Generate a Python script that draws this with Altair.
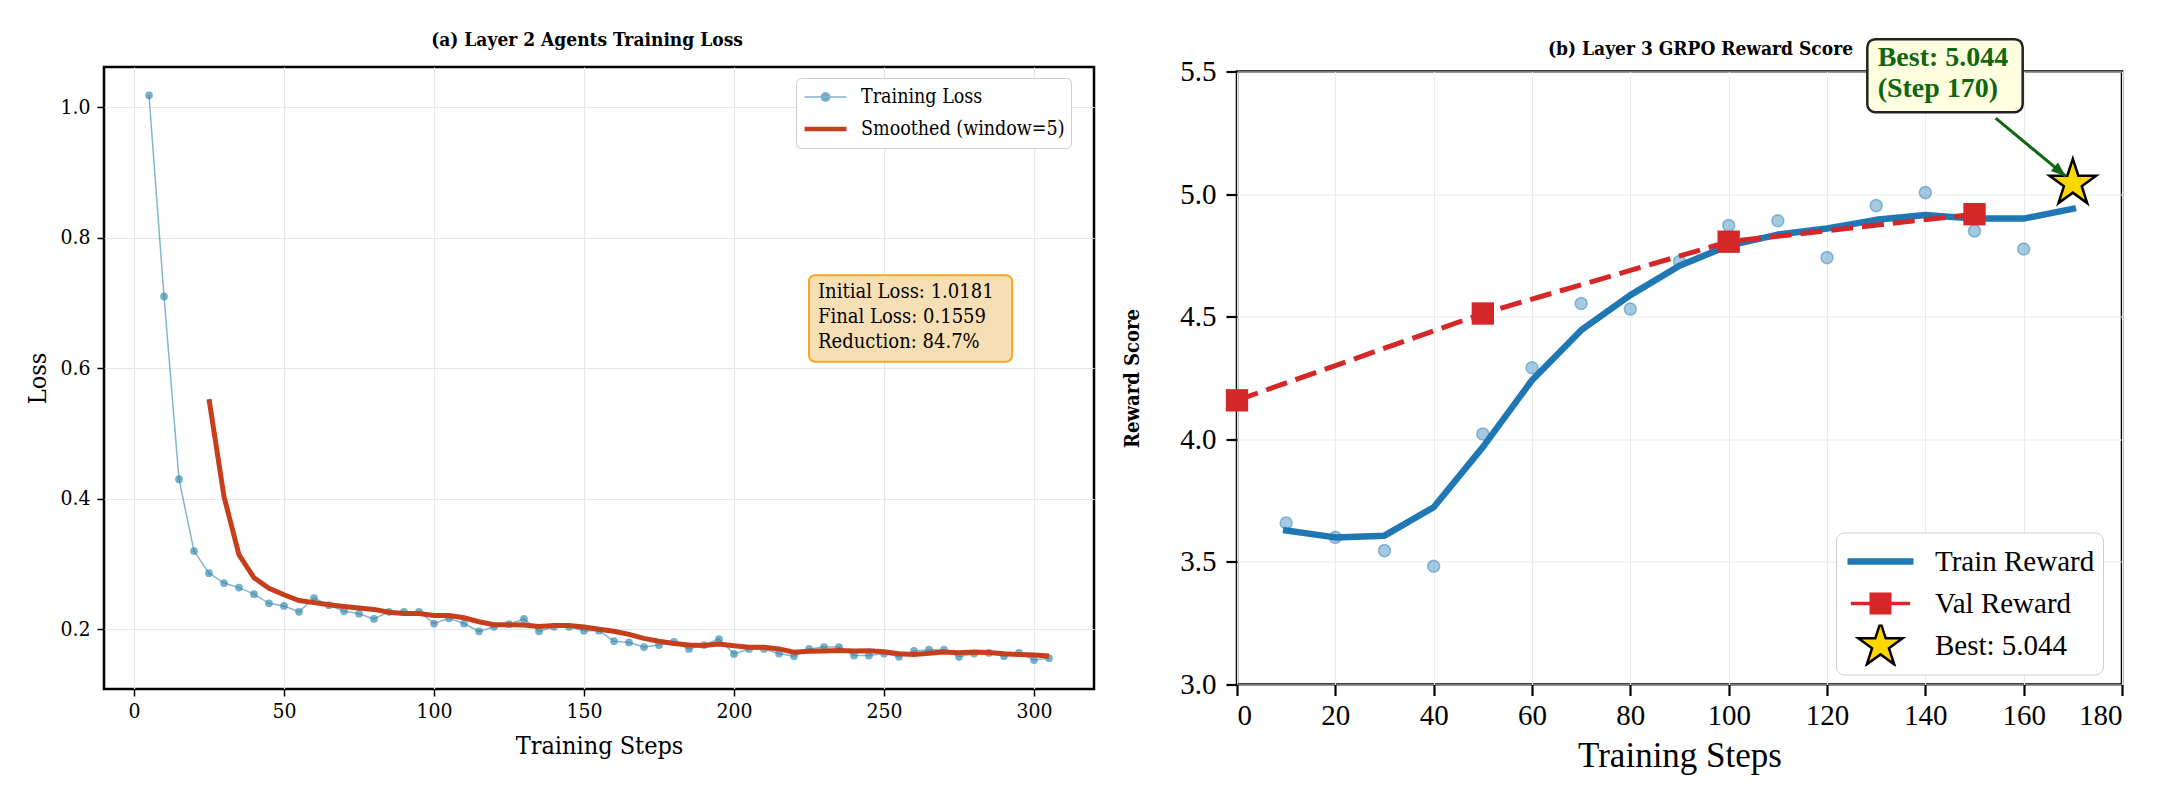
import altair as alt
import pandas as pd

SERIF = "DejaVu Serif Condensed, DejaVu Serif, serif"
TIMES = "Liberation Serif, Times New Roman, serif"

# ---------------- (a) Layer 2 agents training loss ----------------
loss_steps = list(range(5, 310, 5))
loss_values = [
    1.0181, 0.710, 0.430, 0.320, 0.286, 0.271, 0.264, 0.254, 0.240, 0.236,
    0.227, 0.248, 0.237, 0.228, 0.224, 0.216, 0.227, 0.227, 0.227, 0.209,
    0.217, 0.209, 0.197, 0.204, 0.208, 0.216, 0.197, 0.204, 0.204, 0.198,
    0.198, 0.182, 0.180, 0.173, 0.176, 0.181, 0.170, 0.176, 0.185, 0.1625,
    0.170, 0.170, 0.163, 0.159, 0.170, 0.173, 0.173, 0.160, 0.160, 0.163,
    0.158, 0.167, 0.169, 0.169, 0.158, 0.163, 0.164, 0.159, 0.164, 0.153,
    0.1559,
]
loss_series = ["Training Loss", "Smoothed (window=5)"]
loss_x_ticks = [0, 50, 100, 150, 200, 250, 300]
loss_y_ticks = [0.2, 0.4, 0.6, 0.8, 1.0]
summary_lines = ["Initial Loss: 1.0181", "Final Loss: 0.1559", "Reduction: 84.7%"]

# ---------------- (b) Layer 3 GRPO reward ----------------
reward_steps = [10, 20, 30, 40, 50, 60, 70, 80, 90, 100, 110, 120, 130, 140, 150, 160, 170]
reward_raw = [3.659, 3.600, 3.546, 3.482, 4.022, 4.292, 4.554, 4.531, 4.725,
              4.872, 4.891, 4.741, 4.953, 5.006, 4.850, 4.776, 5.044]
reward_smooth = [3.628, 3.600, 3.607, 3.723, 3.968, 4.241, 4.445, 4.588, 4.708,
                 4.790, 4.835, 4.860, 4.895, 4.915, 4.900, 4.900, 4.940]
val_steps = [0, 50, 100, 150]
val_reward = [4.159, 4.513, 4.806, 4.918]
best_step = 170
best_reward = 5.044
reward_series = ["Train Reward", "Val Reward", f"Best: {best_reward:.3f}"]
reward_x_ticks = [0, 20, 40, 60, 80, 100, 120, 140, 160, 180]
reward_y_ticks = [3.0, 3.5, 4.0, 4.5, 5.0, 5.5]

# symbol paths (unit square, scaled by Vega)
LINE = "M-1,0H1"
LINE_DOT = "M-1,0H1M0.2,0A0.2,0.2,0,1,1,-0.2,0A0.2,0.2,0,1,1,0.2,0Z"
LINE_SQUARE = "M-0.9,0H0.9M-0.28,-0.28H0.28V0.28H-0.28Z"
STAR = ("M0,-1L0.2245,-0.309L0.9511,-0.309L0.3633,0.118L0.5878,0.809L0,0.382"
        "L-0.5878,0.809L-0.3633,0.118L-0.9511,-0.309L-0.2245,-0.309Z")
ARROW_HEAD = "M0,0L0.55,1.5L-0.55,1.5Z"

# ======================= panel (a) =======================
loss_df = pd.DataFrame({"step": loss_steps, "loss": loss_values})

LOSS_BLUE = "#2E86AB"
LOSS_RED = "#C73E1D"


def loss_x(field="step"):
    return alt.X(f"{field}:Q",
                 scale=alt.Scale(domain=[-10, 320], nice=False, zero=False),
                 axis=alt.Axis(values=loss_x_ticks, title="Training Steps", format="d",
                               labelFont=SERIF, labelFontSize=21, labelColor="black",
                               titleFont=SERIF, titleFontSize=25, titleFontWeight="normal",
                               titleColor="black", titlePadding=12, labelPadding=4,
                               tickSize=7, tickWidth=1.5, tickColor="black", domain=False,
                               grid=True, gridColor="#e6e6e6", gridWidth=1.2))


def loss_y(field):
    return alt.Y(f"{field}:Q",
                 scale=alt.Scale(domain=[0.1087, 1.0614], nice=False, zero=False),
                 axis=alt.Axis(values=loss_y_ticks, title="Loss", format=".1f",
                               labelFont=SERIF, labelFontSize=21, labelColor="black",
                               titleFont=SERIF, titleFontSize=25, titleFontWeight="normal",
                               titleColor="black", titlePadding=9, labelPadding=7,
                               tickSize=7, tickWidth=1.5, tickColor="black", domain=False,
                               grid=True, gridColor="#e6e6e6", gridWidth=1.2))


loss_raw_line = alt.Chart(loss_df).mark_line(
    color=LOSS_BLUE, opacity=0.6, strokeWidth=1.5
).encode(x=loss_x(), y=loss_y("loss"))

loss_raw_pts = alt.Chart(loss_df).mark_circle(
    color=LOSS_BLUE, opacity=0.65, size=60
).encode(x=loss_x(), y=loss_y("loss"))

loss_smooth = alt.Chart(loss_df).transform_window(
    smooth="mean(loss)", n="count()", frame=[-4, 0], sort=[alt.SortField("step")]
).transform_filter("datum.n == 5").mark_line(
    color=LOSS_RED, strokeWidth=5
).encode(x=loss_x(), y=loss_y("smooth"))

summary_box = alt.Chart(pd.DataFrame({"x": [225.0], "x2": [292.7], "y": [0.7425], "y2": [0.610]})).mark_rect(
    fill="#F7DFB5", stroke="#F5A623", strokeWidth=2, cornerRadius=6
).encode(x=loss_x("x"), x2="x2", y=loss_y("y"), y2="y2")

# first line sits at y; the others follow below it
summary_text = alt.Chart(pd.DataFrame({"x": [228.0], "y": [0.7166], "t": ["\n".join(summary_lines)]})).mark_text(
    align="left", baseline="middle", font=SERIF, fontSize=20, lineHeight=25,
    lineBreak="\n", color="black"
).encode(x=loss_x("x"), y=loss_y("y"), text="t:N")

legL = alt.Legend(title=None, orient="none", legendX=692, legendY=11,
                  labelFont=SERIF, labelFontSize=19.5, labelColor="black",
                  labelOffset=12, padding=6, rowPadding=6, clipHeight=26,
                  symbolOpacity=1, fillColor="white", strokeColor="#cccccc",
                  cornerRadius=5, labelLimit=400)
loss_legend = alt.Chart(pd.DataFrame({"series": loss_series})).transform_filter(
    "false"
).mark_point(filled=True).encode(
    fill=alt.Fill("series:N", scale=alt.Scale(domain=loss_series, range=["#6EA9C6", LOSS_RED]), legend=legL),
    stroke=alt.Stroke("series:N", scale=alt.Scale(domain=loss_series, range=["#82B6CD", LOSS_RED]), legend=legL),
    shape=alt.Shape("series:N", scale=alt.Scale(domain=loss_series, range=[LINE_DOT, LINE]), legend=legL),
    size=alt.Size("series:N", scale=alt.Scale(type="ordinal", domain=loss_series, range=[1764, 1764]), legend=legL),
    strokeWidth=alt.StrokeWidth("series:N", scale=alt.Scale(type="ordinal", domain=loss_series, range=[1.5, 4.5]), legend=legL),
)

left = alt.layer(
    loss_raw_line, loss_raw_pts, loss_smooth, summary_box, summary_text, loss_legend
).properties(
    width=990, height=622,
    title=alt.TitleParams("(a) Layer 2 Agents Training Loss", font=SERIF, fontSize=19,
                          fontWeight="bold", color="black", anchor="middle", offset=17, dx=-12),
)

# ======================= panel (b) =======================
reward_df = pd.DataFrame({"step": reward_steps, "raw": reward_raw, "smooth": reward_smooth})
val_df = pd.DataFrame({"step": val_steps, "val": val_reward})
best_df = pd.DataFrame({"step": [best_step], "reward": [best_reward]})

TAB_BLUE = "#1f77b4"
TAB_RED = "#d62728"
GREEN = "#116611"


def rew_x(field="step"):
    return alt.X(f"{field}:Q",
                 scale=alt.Scale(domain=[0, 180], nice=False, zero=False),
                 axis=alt.Axis(values=reward_x_ticks, title="Training Steps", format="d",
                               labelFont=TIMES, labelFontSize=29, labelColor="black",
                               titleFont=TIMES, titleFontSize=35, titleFontWeight="normal",
                               titleColor="black", titlePadding=8, labelPadding=6,
                               tickSize=11, tickWidth=2.2, tickColor="black", domain=False,
                               grid=True, gridColor="#ebebeb", gridWidth=1))


def rew_y(field):
    return alt.Y(f"{field}:Q",
                 scale=alt.Scale(domain=[3.0, 5.5], nice=False, zero=False),
                 axis=alt.Axis(values=reward_y_ticks, title="Reward Score", format=".1f",
                               labelFont=TIMES, labelFontSize=29, labelColor="black",
                               titleFont=SERIF, titleFontSize=20, titleFontWeight="bold",
                               titleColor="black", titlePadding=37, labelPadding=10,
                               tickSize=11, tickWidth=2.2, tickColor="black", domain=False,
                               grid=True, gridColor="#ebebeb", gridWidth=1))


train_pts = alt.Chart(reward_df).mark_point(
    filled=True, fill=TAB_BLUE, fillOpacity=0.4, stroke=TAB_BLUE, strokeOpacity=0.45,
    strokeWidth=1.5, size=145
).encode(x=rew_x(), y=rew_y("raw"))

train_line = alt.Chart(reward_df).mark_line(
    color=TAB_BLUE, strokeWidth=6.5, strokeCap="square", strokeJoin="round"
).encode(x=rew_x(), y=rew_y("smooth"))

val_line = alt.Chart(val_df).mark_line(
    color=TAB_RED, strokeWidth=5, strokeDash=[22, 9]
).encode(x=rew_x(), y=rew_y("val"))

val_pts = alt.Chart(val_df).mark_square(
    color=TAB_RED, size=500, opacity=1
).encode(x=rew_x(), y=rew_y("val"))

best_star = alt.Chart(best_df).mark_point(
    shape=STAR, filled=True, fill="#FFD700", stroke="black", strokeWidth=2.5,
    size=2400, opacity=1
).encode(x=rew_x(), y=rew_y("reward"))

# annotation box, label and arrow for the best score
ann_box = alt.Chart(pd.DataFrame({"x": [128.2], "x2": [159.8], "y": [5.632], "y2": [5.334]})).mark_rect(
    fill="#FFFFE0", stroke="#222222", strokeWidth=2.5, cornerRadius=8
).encode(x=rew_x("x"), x2="x2", y=rew_y("y"), y2="y2")

ann_text = alt.Chart(pd.DataFrame({
    "x": [130.3], "y": [5.554],
    "t": [f"Best: {best_reward:.3f}\n(Step {best_step})"],
})).mark_text(
    align="left", baseline="middle", font=TIMES, fontSize=28, fontWeight="bold",
    lineHeight=31, lineBreak="\n", color=GREEN
).encode(x=rew_x("x"), y=rew_y("y"), text="t:N")

arrow_df = pd.DataFrame({"x": [154.3], "y": [5.31], "x2": [168.6], "y2": [5.072]})
ann_arrow = alt.Chart(arrow_df).mark_rule(
    color=GREEN, strokeWidth=3
).encode(x=rew_x("x"), y=rew_y("y"), x2="x2", y2="y2")

ann_head = alt.Chart(arrow_df).mark_point(
    shape=ARROW_HEAD, filled=True, color=GREEN, size=400, angle=129.8, opacity=1
).encode(x=rew_x("x2"), y=rew_y("y2"))

legR = alt.Legend(title=None, orient="none", legendX=599, legendY=461,
                  labelFont=TIMES, labelFontSize=29, labelColor="black",
                  labelOffset=18, padding=8, rowPadding=0, clipHeight=42,
                  symbolOpacity=1, fillColor="white", strokeColor="#cccccc",
                  cornerRadius=8, labelLimit=400)
reward_legend = alt.Chart(pd.DataFrame({"series": reward_series})).transform_filter(
    "false"
).mark_point(filled=True).encode(
    fill=alt.Fill("series:N", scale=alt.Scale(domain=reward_series, range=[TAB_BLUE, TAB_RED, "#FFD700"]), legend=legR),
    stroke=alt.Stroke("series:N", scale=alt.Scale(domain=reward_series, range=[TAB_BLUE, TAB_RED, "black"]), legend=legR),
    shape=alt.Shape("series:N", scale=alt.Scale(domain=reward_series, range=[LINE, LINE_SQUARE, STAR]), legend=legR),
    size=alt.Size("series:N", scale=alt.Scale(type="ordinal", domain=reward_series, range=[4356, 4356, 2155]), legend=legR),
    strokeWidth=alt.StrokeWidth("series:N", scale=alt.Scale(type="ordinal", domain=reward_series, range=[6.5, 3.5, 2.5]), legend=legR),
)

right = alt.layer(
    train_pts, train_line, val_line, val_pts, best_star,
    ann_box, ann_text, ann_arrow, ann_head, reward_legend
).properties(
    width=885, height=613,
    title=alt.TitleParams("(b) Layer 3 GRPO Reward Score", font=SERIF, fontSize=19,
                          fontWeight="bold", color="black", anchor="middle", offset=14,
                          dx=21, dy=35),
)

chart = alt.hconcat(
    left, right, spacing=143, bounds="flush", center=True
).resolve_scale(
    fill="independent", stroke="independent", shape="independent",
    size="independent", strokeWidth="independent"
).resolve_legend(
    fill="independent", stroke="independent", shape="independent",
    size="independent", strokeWidth="independent"
).properties(
    padding={"left": 24, "top": 29, "right": 5, "bottom": 5},
    background="white",
).configure_view(
    stroke="black", strokeWidth=2.5
)

chart.save("out.html", embed_options={"renderer": "svg", "actions": False})
